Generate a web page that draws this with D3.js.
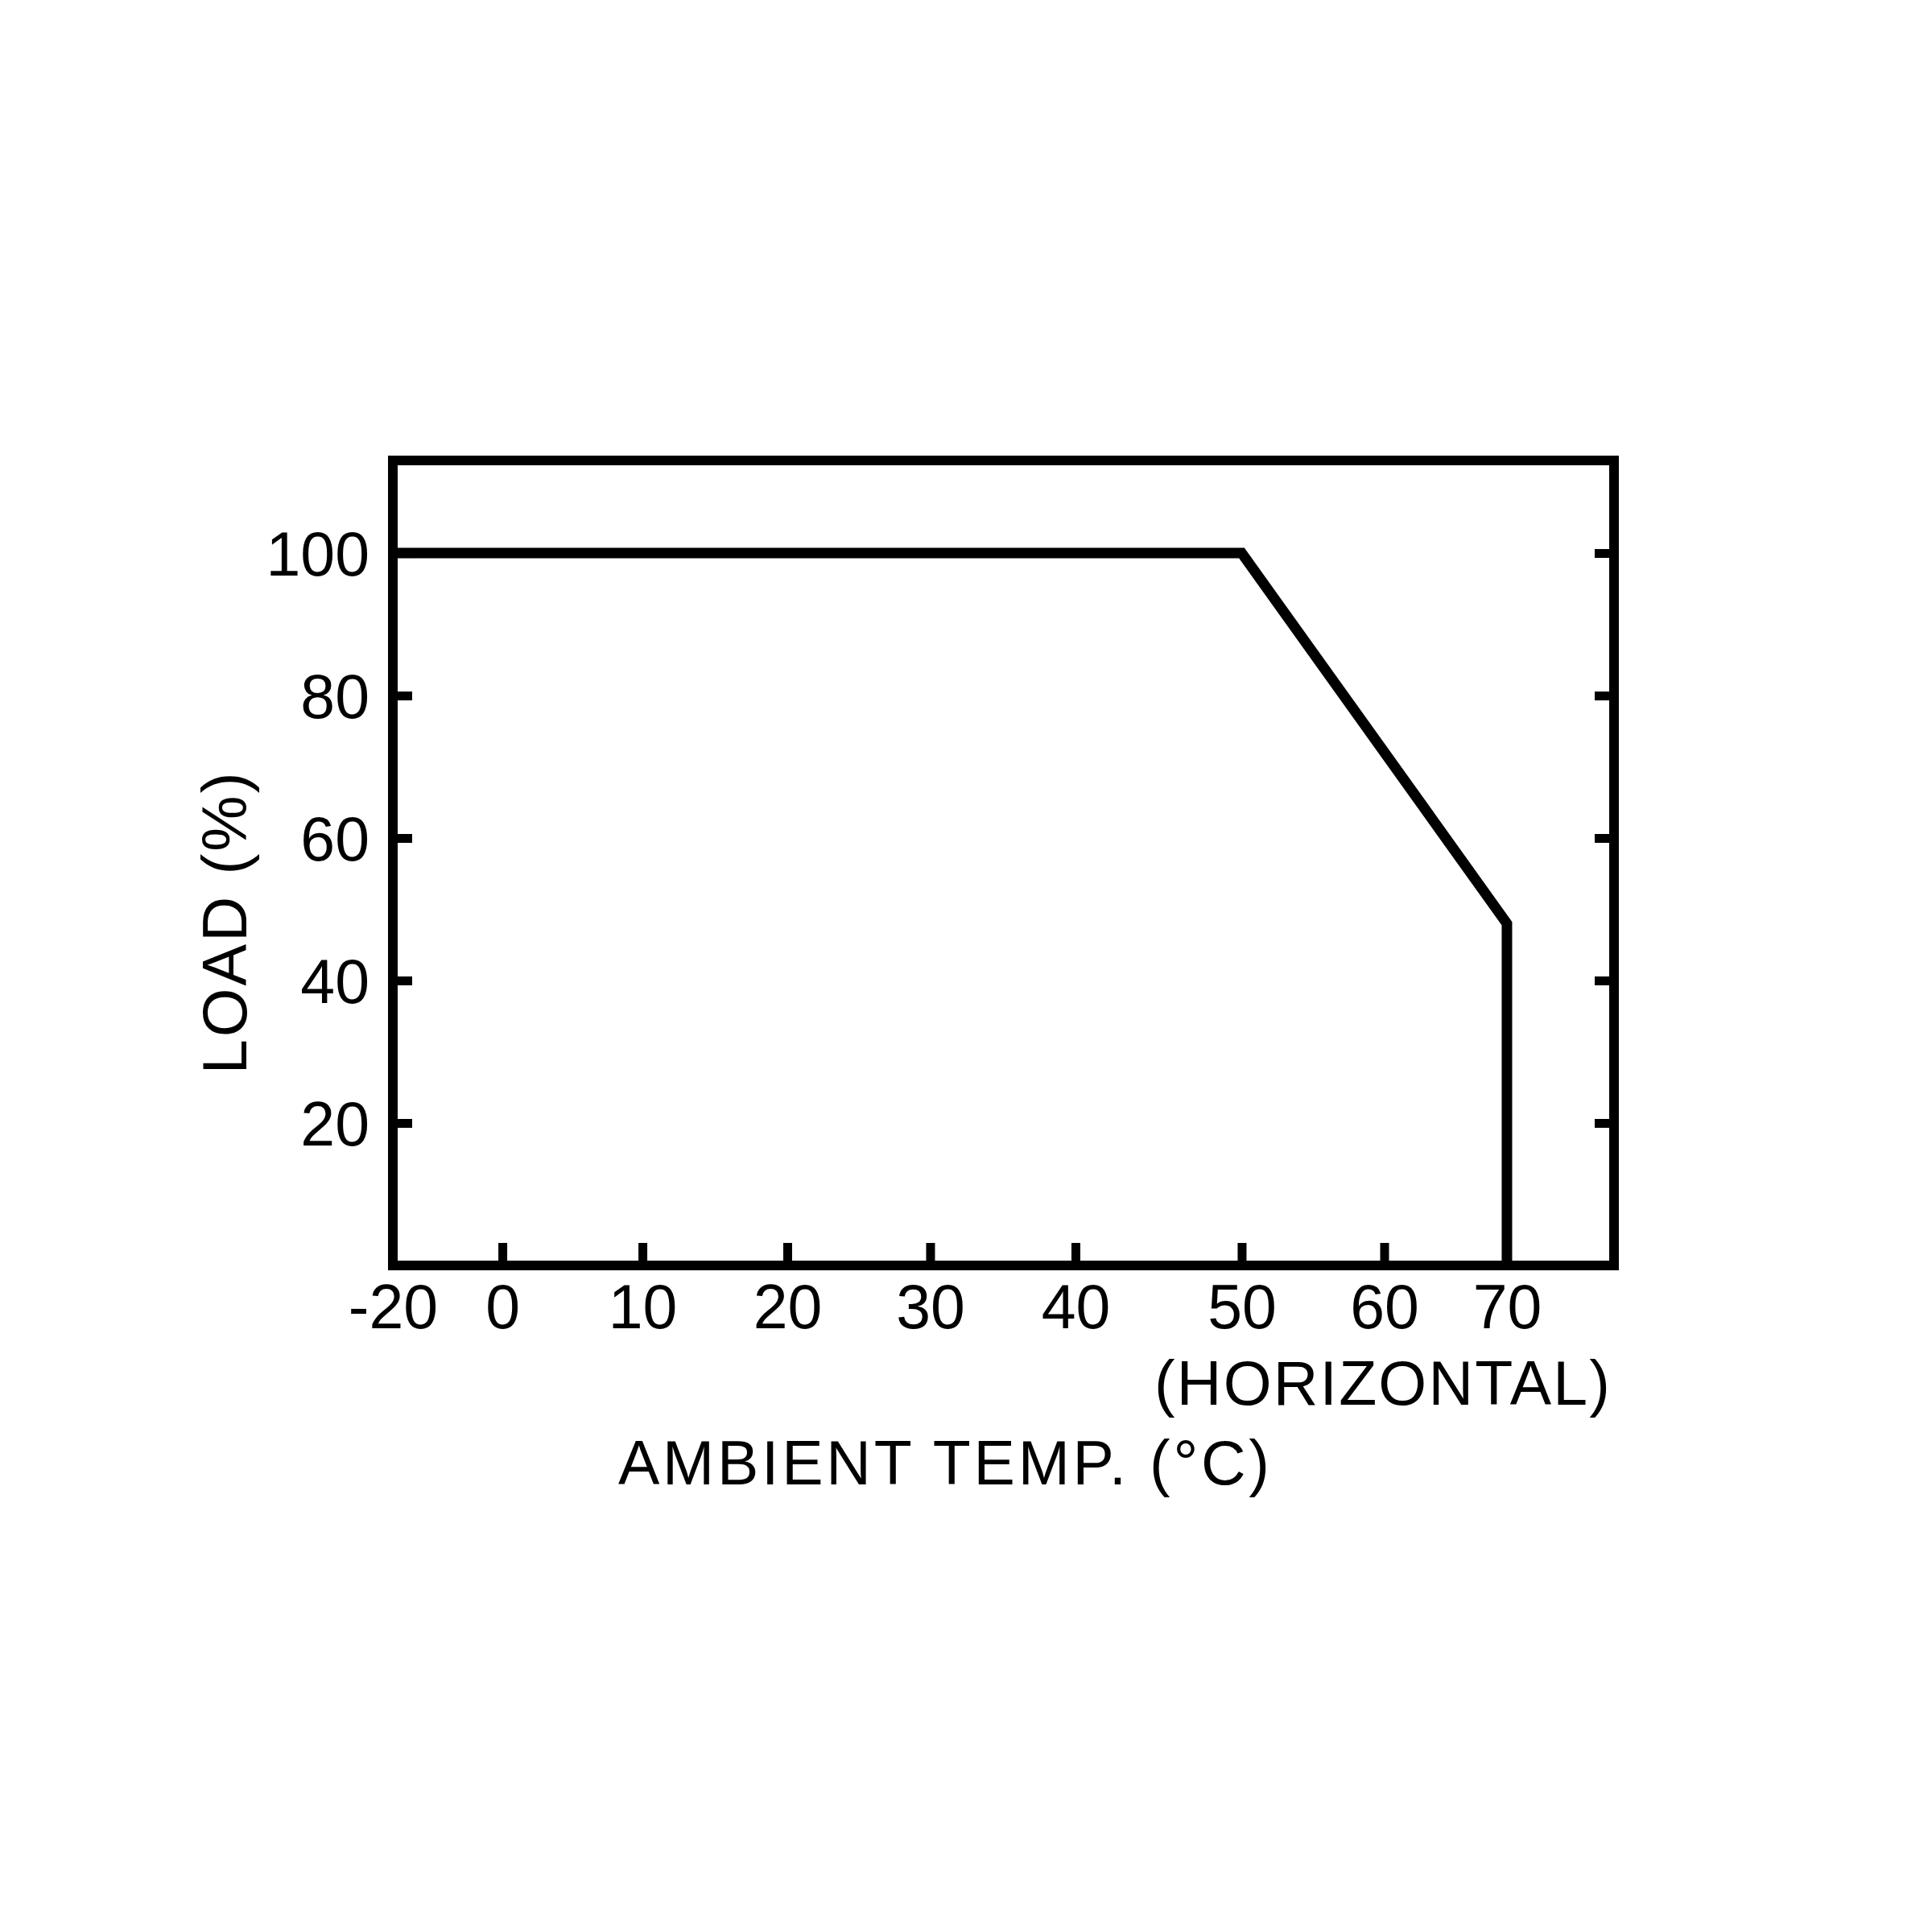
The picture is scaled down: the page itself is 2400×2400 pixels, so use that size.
<!DOCTYPE html>
<html>
<head>
<meta charset="utf-8">
<script src="https://cdn.jsdelivr.net/npm/d3@7"></script>
<style>
  body { margin: 0; background: #fff; }
  text { font-family: "Liberation Sans", Arial, sans-serif; fill: #000; }
</style>
</head>
<body>
<div id="chart"></div>
<script>
// derating curve data (ambient temperature in degC, load in %)
const TEMP = [-20, 50, 70, 70]
const LOAD = [100, 100, 48, 0]

const X_TICKS = [-20, 0, 10, 20, 30, 40, 50, 60, 70]
const Y_TICKS = [20, 40, 60, 80, 100]
const X_MAX = 78.7
const Y_MAX = 113

const X_LABEL = 'AMBIENT TEMP. (\u00B0C)'
const X_NOTE = '(HORIZONTAL)'
const Y_LABEL = 'LOAD (%)'

// the printed axis is hand-drafted, tick stops are not evenly spaced
const X_STOPS = [0, 0.0897, 0.2044, 0.3230, 0.4400, 0.5590, 0.6951, 0.8118, 0.9123, 1]

const WIDTH = 2400, HEIGHT = 2400
const MARGIN = { top: 572, right: 395, bottom: 828, left: 488 }
const STROKE = 12

const w = WIDTH - MARGIN.left - MARGIN.right
const h = HEIGHT - MARGIN.top - MARGIN.bottom

let svg = d3.select('#chart')
  .append('svg')
    .attr('width', WIDTH)
    .attr('height', HEIGHT)

svg.append('rect')
  .attr('width', WIDTH)
  .attr('height', HEIGHT)
  .attr('fill', '#fff')

let g = svg.append('g')
  .attr('transform', 'translate(' + [MARGIN.left, MARGIN.top] + ')')

let x = d3.scaleLinear()
  .domain(X_TICKS.concat(X_MAX))
  .range(X_STOPS.map((f) => f * w))

let y = d3.scaleLinear()
  .domain([0, Y_MAX])
  .range([h, 0])

function styleAxis(sel) {
  sel.select('.domain').remove()
  sel.selectAll('.tick line')
    .attr('stroke', '#000')
    .attr('stroke-width', 11)
  sel.selectAll('.tick text')
    .attr('fill', '#000')
    .style('font-size', '77px')
    .style('font-family', '"Liberation Sans", Arial, sans-serif')
}

// axes (ticks point inward)

g.append('g')
  .attr('transform', 'translate(0,' + h + ')')
  .call(d3.axisBottom(x).tickValues(X_TICKS).tickSize(-28).tickPadding(24).tickFormat(String))
  .call(styleAxis)
  .selectAll('.tick text')
    .attr('y', 23)

g.append('g')
  .call(d3.axisLeft(y).tickValues(Y_TICKS).tickSize(-24).tickPadding(29))
  .call(styleAxis)
  .selectAll('.tick text')
    .attr('dy', '0.36em')

g.append('g')
  .attr('transform', 'translate(' + w + ',0)')
  .call(d3.axisRight(y).tickValues(Y_TICKS).tickSize(-24).tickFormat(''))
  .call(styleAxis)

// frame

g.append('rect')
  .attr('width', w)
  .attr('height', h)
  .attr('fill', 'none')
  .attr('stroke', '#000')
  .attr('stroke-width', STROKE)

// curve

let line = d3.line()
  .x((d) => x(d[0]))
  .y((d) => y(d[1]))

g.append('path')
  .datum(d3.zip(TEMP, LOAD))
  .attr('d', line)
  .attr('fill', 'none')
  .attr('stroke', '#000')
  .attr('stroke-width', 13)
  .attr('stroke-linejoin', 'miter')

// labels

g.append('text')
  .attr('x', 2000 - MARGIN.left)
  .attr('y', 1745 - MARGIN.top)
  .attr('text-anchor', 'end')
  .attr('textLength', 566)
  .attr('lengthAdjust', 'spacing')
  .style('font-size', '77px')
  .text(X_NOTE)

g.append('text')
  .attr('x', 768 - MARGIN.left)
  .attr('y', 1844 - MARGIN.top)
  .attr('textLength', 809)
  .attr('lengthAdjust', 'spacing')
  .style('font-size', '77px')
  .text(X_LABEL)

g.append('text')
  .attr('transform', 'translate(' + [306 - MARGIN.left, 1147 - MARGIN.top] + ') rotate(-90)')
  .attr('text-anchor', 'middle')
  .attr('textLength', 375)
  .attr('lengthAdjust', 'spacing')
  .style('font-size', '78px')
  .text(Y_LABEL)
</script>
</body>
</html>
